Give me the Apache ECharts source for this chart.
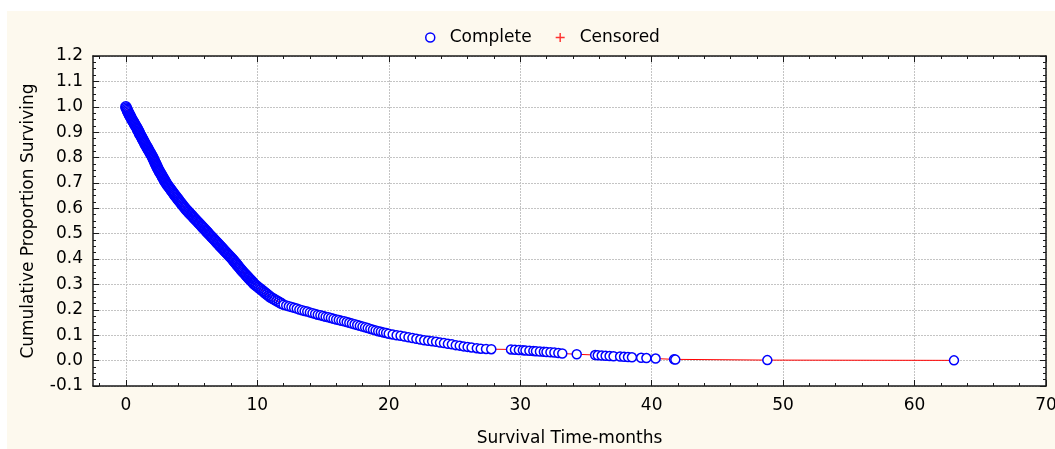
<!DOCTYPE html>
<html>
<head>
<meta charset="utf-8">
<script src="https://cdn.jsdelivr.net/npm/echarts@6/dist/echarts.min.js"></script>
<style>
html, body { margin: 0; padding: 0; background: #fff; }
#main { position: absolute; left: 7px; top: 11px; width: 1048px; height: 438px; background: #fdf9ee; }
</style>
</head>
<body>
<div id="main"></div>
<script>
// 早期密集段：时间（月）
const earlyTimes = [
    0.00, 0.03, 0.08, 0.12, 0.16, 0.21, 0.26, 0.31, 0.36, 0.41,
    0.46, 0.52, 0.58, 0.63, 0.68, 0.74, 0.80, 0.85, 0.90, 0.95,
    1.00, 1.04, 1.09, 1.15, 1.20, 1.25, 1.30, 1.35, 1.40, 1.45,
    1.50, 1.56, 1.62, 1.67, 1.72, 1.78, 1.84, 1.89, 1.94, 2.00,
    2.05, 2.09, 2.13, 2.18, 2.22, 2.27, 2.31, 2.36, 2.41, 2.45,
    2.50, 2.56, 2.61, 2.67, 2.72, 2.78, 2.83, 2.89, 2.94, 3.00,
    3.05, 3.12, 3.19, 3.26, 3.33, 3.40, 3.47, 3.54, 3.61, 3.68,
    3.75, 3.83, 3.90, 3.98, 4.05, 4.13, 4.20, 4.28, 4.35, 4.43,
    4.50, 4.59, 4.68, 4.77, 4.86, 4.95, 5.04, 5.13, 5.22, 5.31,
    5.40, 5.49, 5.58, 5.67, 5.76, 5.85, 5.94, 6.03, 6.12, 6.21,
    6.30, 6.39, 6.48, 6.57, 6.66, 6.75, 6.84, 6.93, 7.02, 7.11,
    7.20, 7.29, 7.38, 7.47, 7.56, 7.65, 7.74, 7.83, 7.92, 8.01,
    8.10, 8.18, 8.26, 8.34, 8.42, 8.50, 8.58, 8.66, 8.74, 8.82,
    8.90, 8.99, 9.08, 9.17, 9.26, 9.35, 9.44, 9.53, 9.62, 9.71,
    9.80, 9.92, 10.04, 10.16, 10.28, 10.40, 10.52, 10.64, 10.76, 10.88,
    11.00, 11.17, 11.33, 11.50, 11.67, 11.83
];
// 早期密集段：累计生存比例
const earlySurv = [
    1.000, 0.995, 0.990, 0.985, 0.980, 0.975, 0.970, 0.965, 0.960, 0.955,
    0.950, 0.945, 0.940, 0.935, 0.930, 0.925, 0.920, 0.915, 0.910, 0.905,
    0.900, 0.895, 0.890, 0.885, 0.880, 0.875, 0.870, 0.865, 0.860, 0.855,
    0.850, 0.845, 0.840, 0.835, 0.830, 0.825, 0.820, 0.815, 0.810, 0.805,
    0.800, 0.795, 0.790, 0.785, 0.780, 0.775, 0.770, 0.765, 0.760, 0.755,
    0.750, 0.745, 0.740, 0.735, 0.730, 0.725, 0.720, 0.715, 0.710, 0.705,
    0.700, 0.695, 0.690, 0.685, 0.680, 0.675, 0.670, 0.665, 0.660, 0.655,
    0.650, 0.645, 0.640, 0.635, 0.630, 0.625, 0.620, 0.615, 0.610, 0.605,
    0.600, 0.595, 0.590, 0.585, 0.580, 0.575, 0.570, 0.565, 0.560, 0.555,
    0.550, 0.545, 0.540, 0.535, 0.530, 0.525, 0.520, 0.515, 0.510, 0.505,
    0.500, 0.495, 0.490, 0.485, 0.480, 0.475, 0.470, 0.465, 0.460, 0.455,
    0.450, 0.445, 0.440, 0.435, 0.430, 0.425, 0.420, 0.415, 0.410, 0.405,
    0.400, 0.395, 0.390, 0.385, 0.380, 0.375, 0.370, 0.365, 0.360, 0.355,
    0.350, 0.345, 0.340, 0.335, 0.330, 0.325, 0.320, 0.315, 0.310, 0.305,
    0.300, 0.295, 0.290, 0.285, 0.280, 0.275, 0.270, 0.265, 0.260, 0.255,
    0.250, 0.245, 0.240, 0.235, 0.230, 0.225
];
// 尾部稀疏段：时间（月）
const tailTimes = [
    12.0, 12.2, 12.4, 12.6, 12.8, 13.0, 13.2, 13.4, 13.6, 13.8,
    14.0, 14.2, 14.4, 14.6, 14.8, 15.0, 15.2, 15.4, 15.6, 15.8,
    16.0, 16.2, 16.4, 16.6, 16.8, 17.0, 17.2, 17.4, 17.6, 17.8,
    18.0, 18.2, 18.4, 18.6, 18.8, 19.0, 19.2, 19.4, 19.6, 19.8, 20.0,
    20.3, 20.6, 20.9, 21.2, 21.5, 21.8, 22.1, 22.4, 22.7, 23.0,
    23.3, 23.6, 23.9, 24.2, 24.5, 24.8, 25.1, 25.4, 25.7, 26.0,
    26.3, 26.7, 27.0, 27.4, 27.8,
    29.3, 29.6, 29.9, 30.2, 30.4, 30.7, 31.0, 31.2, 31.5, 31.8,
    32.0, 32.3, 32.6, 32.9, 33.2,
    34.3, 35.7, 35.9, 36.2, 36.5, 36.8, 37.1, 37.6, 37.9, 38.2,
    38.5, 39.2, 39.6, 40.3, 41.7, 41.8, 48.8, 63.0
];
// 尾部稀疏段：累计生存比例
const tailSurv = [
    0.220, 0.217, 0.214, 0.211, 0.208, 0.205, 0.201, 0.198, 0.195, 0.193,
    0.190, 0.187, 0.184, 0.181, 0.179, 0.176, 0.173, 0.171, 0.168, 0.165,
    0.162, 0.160, 0.157, 0.155, 0.152, 0.149, 0.146, 0.143, 0.140, 0.137,
    0.134, 0.131, 0.128, 0.125, 0.122, 0.119, 0.116, 0.114, 0.111, 0.109, 0.106,
    0.103, 0.100, 0.098, 0.095, 0.092, 0.089, 0.086, 0.083, 0.080, 0.078,
    0.076, 0.074, 0.071, 0.069, 0.066, 0.064, 0.061, 0.059, 0.056, 0.054,
    0.052, 0.049, 0.047, 0.046, 0.045,
    0.044, 0.043, 0.042, 0.041, 0.040, 0.039, 0.038, 0.037, 0.036, 0.035,
    0.034, 0.033, 0.032, 0.030, 0.028,
    0.025, 0.022, 0.021, 0.020, 0.019, 0.018, 0.017, 0.016, 0.015, 0.014,
    0.013, 0.011, 0.010, 0.008, 0.005, 0.004, 0.002, 0.001
];
// 刻度
const xMajorTicks = [0, 10, 20, 30, 40, 50, 60, 70];
const xMinorTicks = [-2, 0, 2, 4, 6, 8, 10, 12, 14, 16, 18, 20, 22, 24, 26, 28, 30, 32, 34,
    36, 38, 40, 42, 44, 46, 48, 50, 52, 54, 56, 58, 60, 62, 64, 66, 68, 70];

const font = 'DejaVu Sans';
const axisColor = '#1a1a1a';

const earlyPts = earlyTimes.map((t, i) => [t, earlySurv[i]]);
const tailPts = tailTimes.map((t, i) => [t, tailSurv[i]]);
const completePts = earlyPts.concat(tailPts);

const plusIcon = 'path://M4.2,0L5.8,0L5.8,4.2L10,4.2L10,5.8L5.8,5.8L5.8,10L4.2,10L4.2,5.8L0,5.8L0,4.2L4.2,4.2Z';

// x 轴（主刻度 / 次刻度，上下各一）
function xAxisDef(pos, major) {
    return {
        type: 'value', position: pos, min: -2.5, max: 70,
        axisLine: { show: major, onZero: false, lineStyle: { color: axisColor, width: 1.5 } },
        axisTick: {
            show: true, inside: true, length: major ? 6 : 3,
            customValues: major ? xMajorTicks : xMinorTicks,
            lineStyle: { color: axisColor, width: 1 }
        },
        axisLabel: {
            show: major && pos === 'bottom', customValues: xMajorTicks,
            fontFamily: font, fontSize: 17, color: '#000', margin: 11
        },
        splitLine: { show: major && pos === 'bottom', lineStyle: { color: '#c4c4c4', type: [2, 1], width: 1 } },
        name: (major && pos === 'bottom') ? 'Survival Time-months' : '',
        nameLocation: 'middle', nameGap: 44,
        nameTextStyle: { fontFamily: font, fontSize: 17, color: '#000' }
    };
}

function yAxisDef(pos) {
    const left = pos === 'left';
    return {
        type: 'value', position: pos, min: -0.1, max: 1.2, interval: 0.1,
        axisLine: { show: true, onZero: false, lineStyle: { color: axisColor, width: 1.5 } },
        axisTick: { show: true, inside: true, length: 6, lineStyle: { color: axisColor } },
        minorTick: { show: true, splitNumber: 4, length: 3, lineStyle: { color: axisColor } },
        axisLabel: {
            show: left, fontFamily: font, fontSize: 17, color: '#000', margin: 10,
            formatter: v => v.toFixed(1)
        },
        splitLine: { show: left, lineStyle: { color: '#c4c4c4', type: [2, 1], width: 1 } },
        name: left ? 'Cumulative Proportion Surviving' : '',
        nameLocation: 'middle', nameGap: 56,
        nameTextStyle: { fontFamily: font, fontSize: 17, color: '#000' }
    };
}

const myChart = echarts.init(document.getElementById('main'));

const option = {
    animation: false,
    grid: {
        left: 86, top: 45, right: 9, bottom: 63, outerBoundsMode: 'none',
        show: true, backgroundColor: '#fff', borderWidth: 0
    },
    legend: {
        left: 413, top: 13, itemWidth: 9, itemHeight: 9, itemGap: 24,
        textStyle: { fontFamily: font, fontSize: 17, color: '#000', padding: [0, 0, 0, 10] },
        data: [
            { name: 'Complete', icon: 'circle', itemStyle: { color: '#fff', borderColor: '#0000ff', borderWidth: 1.5 } },
            { name: 'Censored', icon: plusIcon, itemStyle: { color: '#ff0000', borderWidth: 0 } }
        ]
    },
    xAxis: [xAxisDef('bottom', true), xAxisDef('bottom', false), xAxisDef('top', true), xAxisDef('top', false)],
    yAxis: [yAxisDef('left'), yAxisDef('right')],
    series: [
        {
            // 连接线
            type: 'line',
            data: completePts,
            showSymbol: false,
            lineStyle: { color: '#ff0000', width: 1 },
            z: 1
        },
        {
            // 密集段：圆圈重叠成实心带
            name: 'Complete',
            type: 'scatter',
            data: earlyPts,
            symbol: 'circle',
            symbolSize: 10,
            itemStyle: { color: 'rgba(255,255,255,0)', borderColor: '#0000ff', borderWidth: 1.5, opacity: 1 },
            z: 2
        },
        {
            name: 'Complete',
            type: 'scatter',
            data: tailPts,
            symbol: 'circle',
            symbolSize: 9,
            itemStyle: { color: '#fff', borderColor: '#0000ff', borderWidth: 1.5, opacity: 1 },
            z: 2
        },
        {
            name: 'Censored',
            type: 'scatter',
            data: [],
            symbol: plusIcon,
            symbolSize: 9,
            itemStyle: { color: '#ff0000' }
        }
    ]
};

myChart.setOption(option);
</script>
</body>
</html>
